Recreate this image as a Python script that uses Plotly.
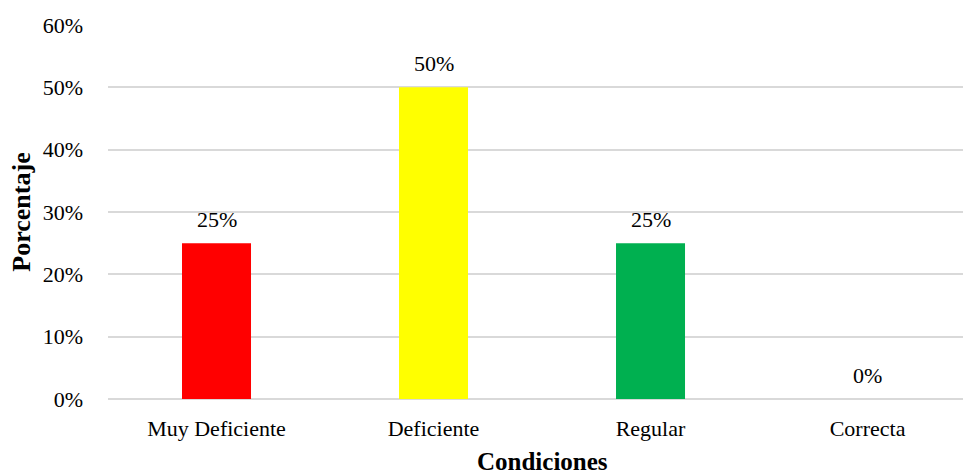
import plotly.graph_objects as go

categorias = ["Muy Deficiente", "Deficiente", "Regular", "Correcta"]
porcentajes = [0.25, 0.50, 0.25, 0.0]
colores = ["#FF0000", "#FFFF00", "#00B050", "#A5A5A5"]
etiquetas = [f"{v:.0%}" for v in porcentajes]

fuente = "Liberation Serif, Times New Roman, serif"

fig = go.Figure(
    go.Bar(
        x=categorias,
        y=porcentajes,
        marker=dict(color=colores, line=dict(width=0)),
        width=0.318,
        cliponaxis=False,
    )
)

# Value labels sit a little above each bar
for cat, val, txt in zip(categorias, porcentajes, etiquetas):
    fig.add_annotation(
        x=cat, y=val, text=txt, showarrow=False,
        xanchor="center", yanchor="bottom", yshift=9,
        font=dict(family=fuente, size=22, color="#000000"),
    )

# X-axis title, centred under the full category band
fig.add_annotation(
    x=1.5, xref="x", y=0, yref="paper", yshift=-62,
    text="<b>Condiciones</b>", showarrow=False,
    xanchor="center", yanchor="middle",
    font=dict(family=fuente, size=25, color="#000000"),
)

fig.update_layout(
    width=963,
    height=475,
    margin=dict(l=108, r=0, t=25, b=76),
    paper_bgcolor="white",
    plot_bgcolor="white",
    showlegend=False,
    font=dict(family=fuente, size=22, color="#000000"),
    xaxis=dict(
        range=[-0.5, 3.44],
        showgrid=False,
        showline=False,
        ticks="",
        ticklabelstandoff=14,
        tickfont=dict(family=fuente, size=22),
    ),
    yaxis=dict(
        range=[0, 0.6],
        dtick=0.1,
        tickformat=".0%",
        showgrid=True,
        gridcolor="#D9D9D9",
        gridwidth=1.5,
        zeroline=True,
        zerolinecolor="#D9D9D9",
        zerolinewidth=1.5,
        showline=False,
        ticks="",
        ticklabelstandoff=24,
        tickfont=dict(family=fuente, size=22),
        title=dict(text="<b>Porcentaje</b>", font=dict(family=fuente, size=26), standoff=4),
    ),
)

fig.write_html("out.html")
